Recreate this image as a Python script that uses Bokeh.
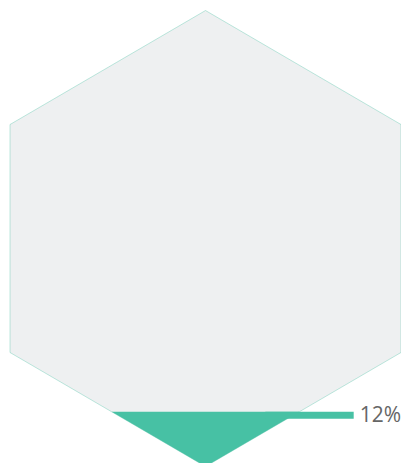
from bokeh.plotting import figure
from bokeh.models import Range1d, ColumnDataSource
from bokeh.core.properties import value
from bokeh.embed import file_html
from bokeh.resources import INLINE

# ---- data ----
level_value = [12]             # percent filled
level_labels = ["12%"]
hex_x = [50, 100, 100, 50, 0, 0]   # hexagon outline in percent-of-box units
hex_y = [100, 75, 25, 0, 25, 75]

# ---- layout / style constants ----
W, H = 401, 463
PX_X = 3.91          # pixels per x unit
PX_Y = 4.56          # pixels per y unit
BOX_LEFT = 9.5       # screen x of box left edge
BOX_BOTTOM = 466     # screen y of box bottom (0%)
FILL = "#47c1a4"
BG = "#eef0f1"

def clip_below(xs, ys, lvl):
    """Clip polygon to region y <= lvl (Sutherland-Hodgman)."""
    out_x, out_y = [], []
    n = len(xs)
    for i in range(n):
        x1, y1 = xs[i], ys[i]
        x2, y2 = xs[(i + 1) % n], ys[(i + 1) % n]
        in1, in2 = y1 <= lvl, y2 <= lvl
        if in1:
            out_x.append(x1); out_y.append(y1)
        if in1 != in2:
            t = (lvl - y1) / (y2 - y1)
            out_x.append(x1 + t * (x2 - x1)); out_y.append(lvl)
    return out_x, out_y

p = figure(width=W, height=H, output_backend="svg", toolbar_location=None,
           x_range=Range1d(-BOX_LEFT / PX_X, (W - BOX_LEFT) / PX_X),
           y_range=Range1d((BOX_BOTTOM - H) / PX_Y, BOX_BOTTOM / PX_Y),
           min_border=0, outline_line_color=None)
p.axis.visible = False
p.grid.visible = False
p.background_fill_color = None
p.border_fill_color = None

# hexagon background
p.patch(hex_x, hex_y, fill_color=BG, line_color=FILL, line_alpha=0.35, line_width=1)

# liquid fill
lvl = level_value[0]
fx, fy = clip_below(hex_x, hex_y, lvl)
p.patch(fx, fy, fill_color=FILL, line_color=None)

# leader bar and label
bar_left, bar_right = 65.3, 87.9
bar_h = 7 / PX_Y
p.quad(left=[bar_left], right=[bar_right], top=[lvl], bottom=[lvl - bar_h],
       fill_color=FILL, line_color=None)

src = ColumnDataSource(dict(x=[bar_right + 6.0 / PX_X], y=[lvl], t=level_labels))
p.text(x="x", y="y", text="t", source=src, text_font=value("Open Sans"),
       text_font_size="21px", text_color="#666666", text_baseline="middle",
       text_align="left", y_offset=2)

open("out.html", "w").write(file_html(p, INLINE))
